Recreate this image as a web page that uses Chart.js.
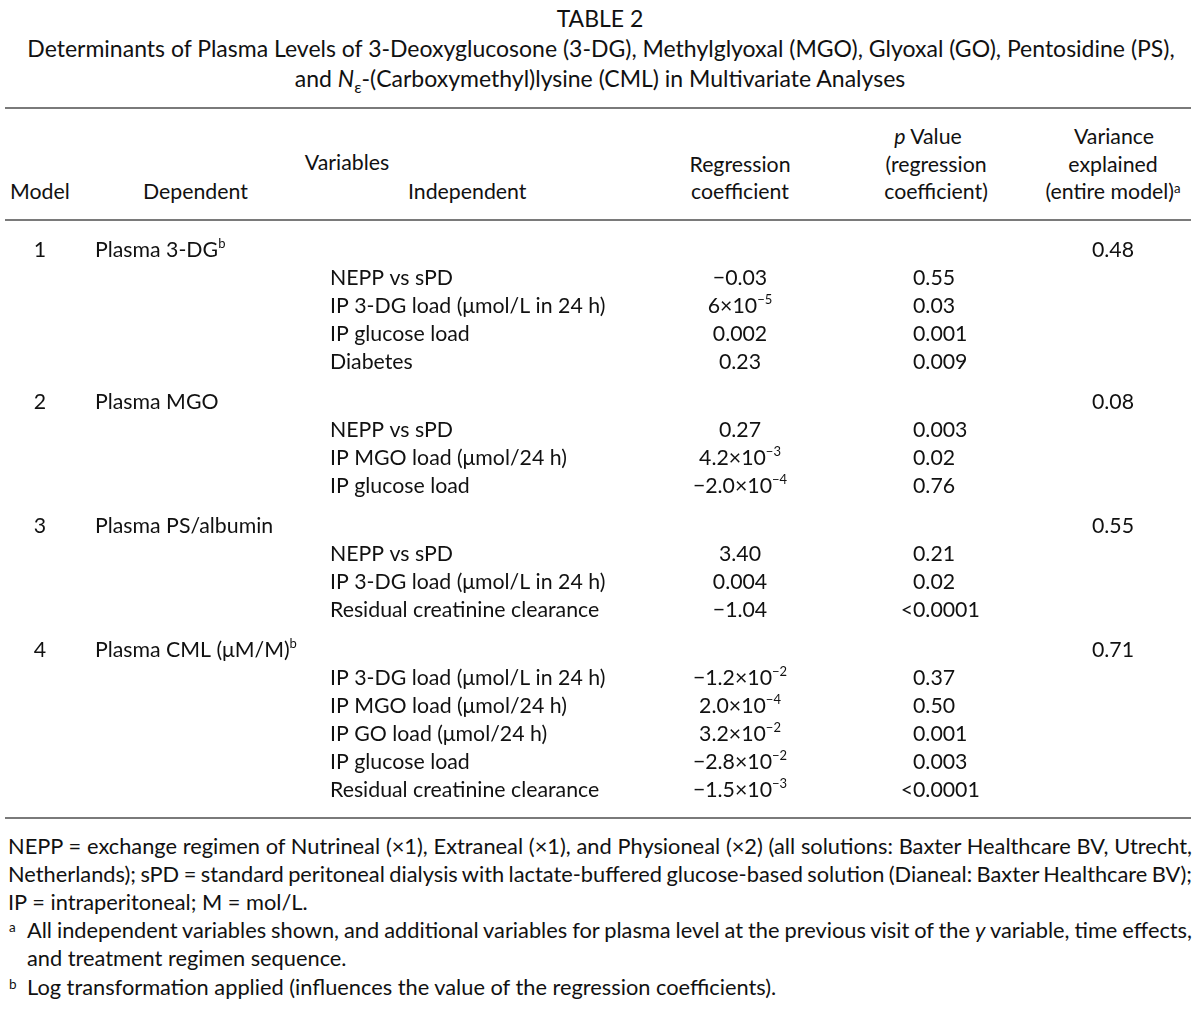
<!DOCTYPE html>
<html>
<head>
<meta charset="utf-8">
<script src="https://cdn.jsdelivr.net/npm/chart.js@4.4.1/dist/chart.umd.min.js"></script>
<style>
  html, body { margin:0; padding:0; background:#fff; }
  #page { position:relative; width:1200px; height:1009px; overflow:hidden; font-family:"Lato","Noto Sans",sans-serif; color:#111; }
  .t { position:absolute; white-space:nowrap; font-size:21.3px; line-height:22px; }
  .f { font-size:21.8px; }
  .h { font-size:23px; line-height:24px; }
  .c { transform:translateX(-50%); }
  .rule { position:absolute; left:5px; width:1186px; height:2px; background:#7a7a7a; }
  sup { font-size:0.62em; vertical-align:0; position:relative; top:-0.45em; }
  sub { font-size:0.7em; vertical-align:0; position:relative; top:0.35em; }
  #body { position:absolute; left:0; top:221px; }
</style>
</head>
<body>
<div id="page">
  <div class="t c h" style="left:600px;top:6px;">TABLE 2</div>
  <div class="t c h" style="left:601px;top:36px;">Determinants of Plasma Levels of 3-Deoxyglucosone (3-DG), Methylglyoxal (MGO), Glyoxal (GO), Pentosidine (PS),</div>
  <div class="t c h" style="left:600px;top:66px;">and <i>N</i><sub>ε</sub>-(Carboxymethyl)lysine (CML) in Multivariate Analyses</div>
  <div class="rule" style="top:107px;"></div>

  <div class="t c" style="left:928px;top:125px;"><i>p</i> Value</div>
  <div class="t c" style="left:1114px;top:125px;">Variance</div>
  <div class="t c" style="left:347px;top:151px;">Variables</div>
  <div class="t c" style="left:740px;top:153px;">Regression</div>
  <div class="t c" style="left:936px;top:153px;">(regression</div>
  <div class="t c" style="left:1113px;top:153px;">explained</div>
  <div class="t" style="left:10px;top:180px;">Model</div>
  <div class="t" style="left:143px;top:180px;">Dependent</div>
  <div class="t" style="left:408px;top:180px;">Independent</div>
  <div class="t c" style="left:740px;top:180px;">coefficient</div>
  <div class="t c" style="left:936px;top:180px;">coefficient)</div>
  <div class="t c" style="left:1113px;top:180px;">(entire model)<sup>a</sup></div>
  <div class="rule" style="top:219px;"></div>

  <canvas id="body" width="1200" height="597"></canvas>

  <div class="rule" style="top:817px;"></div>
  <div class="t f just" data-w="1184" style="left:8px;top:835px;">NEPP = exchange regimen of Nutrineal (×1), Extraneal (×1), and Physioneal (×2) (all solutions: Baxter Healthcare BV, Utrecht,</div>
  <div class="t f just" data-w="1184" style="left:8px;top:863px;">Netherlands); sPD = standard peritoneal dialysis with lactate-buffered glucose-based solution (Dianeal: Baxter Healthcare BV);</div>
  <div class="t f" style="left:8px;top:891px;">IP = intraperitoneal; M = mol/L.</div>
  <div class="t f" style="left:9px;top:919px;"><sup>a</sup></div>
  <div class="t f just" data-w="1165" style="left:27px;top:919px;">All independent variables shown, and additional variables for plasma level at the previous visit of the <i>y</i> variable, time effects,</div>
  <div class="t f" style="left:27px;top:947px;">and treatment regimen sequence.</div>
  <div class="t f" style="left:9px;top:976px;"><sup>b</sup></div>
  <div class="t f" style="left:27px;top:976px;">Log transformation applied (influences the value of the regression coefficients).</div>
</div>
<script>
// fit justified footnote lines to their target width (word-spacing, may be negative)
document.querySelectorAll('.just').forEach(el => {
  const target = +el.dataset.w;
  const natural = el.getBoundingClientRect().width;
  const spaces = (el.textContent.match(/ /g) || []).length;
  if (spaces) el.style.wordSpacing = ((target - natural) / spaces) + 'px';
});

// ---- data ----
const models = ['1', '2', '3', '4'];
const dependents = ['Plasma 3-DG^{b}', 'Plasma MGO', 'Plasma PS/albumin', 'Plasma CML (μM/M)^{b}'];
const varianceExplained = ['0.48', '0.08', '0.55', '0.71'];
const independents = [
  ['NEPP vs sPD', 'IP 3-DG load (μmol/L in 24 h)', 'IP glucose load', 'Diabetes'],
  ['NEPP vs sPD', 'IP MGO load (μmol/24 h)', 'IP glucose load'],
  ['NEPP vs sPD', 'IP 3-DG load (μmol/L in 24 h)', 'Residual creatinine clearance'],
  ['IP 3-DG load (μmol/L in 24 h)', 'IP MGO load (μmol/24 h)', 'IP GO load (μmol/24 h)', 'IP glucose load', 'Residual creatinine clearance']
];
const coefficients = [
  ['−0.03', '6×10^{−5}', '0.002', '0.23'],
  ['0.27', '4.2×10^{−3}', '−2.0×10^{−4}'],
  ['3.40', '0.004', '−1.04'],
  ['−1.2×10^{−2}', '2.0×10^{−4}', '3.2×10^{−2}', '−2.8×10^{−2}', '−1.5×10^{−3}']
];
const pValues = [
  ['0.55', '0.03', '0.001', '0.009'],
  ['0.003', '0.02', '0.76'],
  ['0.21', '0.02', '<0.0001'],
  ['0.37', '0.50', '0.001', '0.003', '<0.0001']
];

// ---- layout (positions/styles, not data) ----
const FONT = '"Lato","Noto Sans",sans-serif';
const FS = 21.3;
const groupGap = 12 / 28;           // extra gap between model groups, in row units
const colAnchor = { model: 40, dep: 95, ind: 330, coef: 740, p: 913, varx: 1113 };
const colAlign  = { model: 'center', dep: 'left', ind: 'left', coef: 'center', p: 'decimal', varx: 'center' };

// build table rows (one point per cell)
const cols = { model: [], dep: [], ind: [], coef: [], p: [], varx: [] };
let line = 0;
models.forEach((m, g) => {
  const yHead = line + g * groupGap;
  cols.model.push({ x: colAnchor.model, y: yHead, label: m });
  cols.dep.push({ x: colAnchor.dep, y: yHead, label: dependents[g] });
  cols.varx.push({ x: colAnchor.varx, y: yHead, label: varianceExplained[g] });
  line++;
  independents[g].forEach((v, i) => {
    const yy = line + g * groupGap;
    cols.ind.push({ x: colAnchor.ind, y: yy, label: v });
    cols.coef.push({ x: colAnchor.coef, y: yy, label: coefficients[g][i] });
    cols.p.push({ x: colAnchor.p, y: yy, label: pValues[g][i] });
    line++;
  });
});

function parseRich(s) {
  const segs = []; const re = /\^\{([^}]*)\}/g; let last = 0, m;
  while ((m = re.exec(s))) {
    if (m.index > last) segs.push({ t: s.slice(last, m.index), sup: false });
    segs.push({ t: m[1], sup: true }); last = re.lastIndex;
  }
  if (last < s.length) segs.push({ t: s.slice(last), sup: false });
  return segs;
}
function drawRich(ctx, s, x, y, align) {
  const segs = parseRich(s);
  const fBase = FS + 'px ' + FONT, fSup = Math.round(FS * 0.62) + 'px ' + FONT;
  let w = 0;
  segs.forEach(sg => { ctx.font = sg.sup ? fSup : fBase; sg.w = ctx.measureText(sg.t).width; w += sg.w; });
  let sx = x;
  if (align === 'center') sx = x - w / 2;
  else if (align === 'decimal' && s.startsWith('<')) { ctx.font = fBase; sx = x - ctx.measureText('<').width; }
  const base = y + FS * 0.36;
  segs.forEach(sg => {
    ctx.font = sg.sup ? fSup : fBase;
    ctx.fillText(sg.t, sx, sg.sup ? base - FS * 0.42 : base);
    sx += sg.w;
  });
}

const cellText = {
  id: 'cellText',
  afterDatasetsDraw(chart) {
    const ctx = chart.ctx; ctx.save(); ctx.fillStyle = '#111'; ctx.textBaseline = 'alphabetic'; ctx.textAlign = 'left';
    chart.data.datasets.forEach((ds, di) => {
      const meta = chart.getDatasetMeta(di);
      meta.data.forEach((el, i) => drawRich(ctx, ds.data[i].label, el.x, el.y, ds.align));
    });
    ctx.restore();
  }
};

const datasets = Object.keys(cols).map(k => ({
  label: k, data: cols[k], align: colAlign[k], pointRadius: 0, pointHoverRadius: 0, showLine: false
}));

new Chart(document.getElementById('body'), {
  type: 'scatter',
  data: { datasets },
  options: {
    responsive: false, animation: false, devicePixelRatio: 1,
    layout: { padding: 0 },
    plugins: { legend: { display: false }, tooltip: { enabled: false } },
    events: [],
    scales: {
      x: { type: 'linear', min: 0, max: 1200, display: false },
      y: { type: 'linear', min: -1, max: 20.32, reverse: true, display: false }
    }
  },
  plugins: [cellText]
});
</script>
</body>
</html>
